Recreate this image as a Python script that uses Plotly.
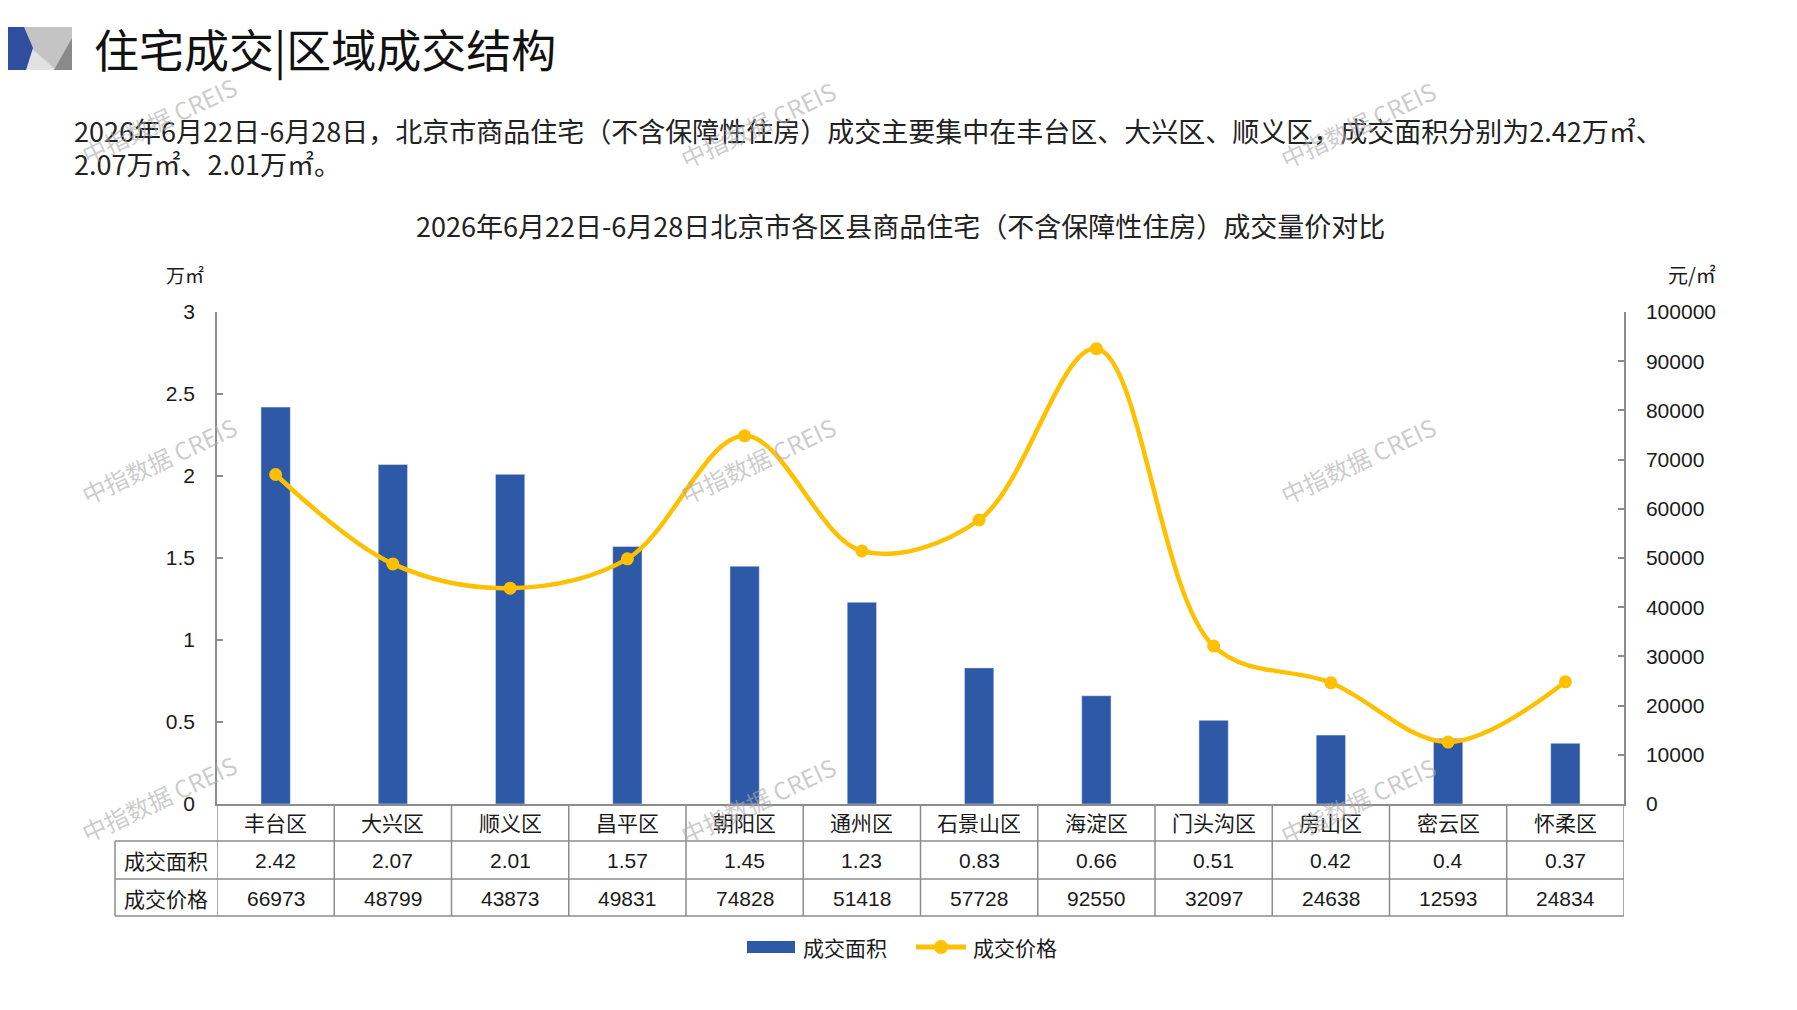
import plotly.graph_objects as go

# 数据
districts = ['丰台区', '大兴区', '顺义区', '昌平区', '朝阳区', '通州区',
             '石景山区', '海淀区', '门头沟区', '房山区', '密云区', '怀柔区']
area = [2.42, 2.07, 2.01, 1.57, 1.45, 1.23, 0.83, 0.66, 0.51, 0.42, 0.4, 0.37]
area_labels = ['2.42', '2.07', '2.01', '1.57', '1.45', '1.23',
               '0.83', '0.66', '0.51', '0.42', '0.4', '0.37']
price = [66973, 48799, 43873, 49831, 74828, 51418, 57728, 92550, 32097, 24638, 12593, 24834]
row_names = ['成交面积', '成交价格']

title_text = '住宅成交|区域成交结构'
para_lines = ['2026年6月22日-6月28日，北京市商品住宅（不含保障性住房）成交主要集中在丰台区、大兴区、顺义区，成交面积分别为2.42万㎡、',
              '2.07万㎡、2.01万㎡。']
chart_title = '2026年6月22日-6月28日北京市各区县商品住宅（不含保障性住房）成交量价对比'

# 画布和绘图区 (页面像素, 页面 body 有 8px 边距)
W, H = 1797, 1010
OFF = 8
PLOT_X0, PLOT_X1, PLOT_Y0, PLOT_Y1 = 217, 1624, 312, 804
PW = PLOT_X1 - PLOT_X0
PH = PLOT_Y1 - PLOT_Y0
L = PLOT_X0 - OFF
T = PLOT_Y0 - OFF
R = W - L - PW
B = H - T - PH

def px(x):
    return (x - PLOT_X0) / PW

def py(y):
    return (PLOT_Y1 - y) / PH

CJK = 'Noto Sans CJK SC'
NUM = 'Liberation Sans, Noto Sans CJK SC'
BLUE = '#2E59A7'
GOLD = '#FFC000'
GRID = '#8c8c8c'
TXT = '#1a1a1a'

fig = go.Figure()

fig.add_trace(go.Bar(x=districts, y=area, name='成交面积', marker_color=BLUE,
                     hoverinfo='x+y'))
fig.add_trace(go.Scatter(x=districts, y=price, name='成交价格', yaxis='y2',
                         mode='lines+markers',
                         line=dict(color=GOLD, width=4.5, shape='spline', smoothing=1),
                         marker=dict(color=GOLD, size=13)))

axis_style = dict(showline=True, linecolor=GRID, linewidth=1.5, ticks='inside',
                  ticklen=6, tickcolor=GRID, tickwidth=1.5, showgrid=False,
                  zeroline=False, tickfont=dict(family=NUM, size=21, color=TXT),
                  ticklabelstandoff=16)

fig.update_layout(
    width=W, height=H, autosize=False,
    margin=dict(l=L, r=R, t=T, b=B),
    paper_bgcolor='white', plot_bgcolor='white',
    font=dict(family=CJK, color=TXT),
    bargap=0.75,
    xaxis=dict(range=[-0.5, 11.5], showline=True, linecolor=GRID, linewidth=1.5,
               showticklabels=False, ticks='', showgrid=False),
    yaxis=dict(range=[0, 3], dtick=0.5, **axis_style),
    yaxis2=dict(range=[0, 100000], dtick=10000, overlaying='y', side='right',
                tickformat='d', **axis_style),
    showlegend=False,
)

annotations = []
shapes = []

# 标题栏 logo
logo = [
    ([(22, 27), (72, 27), (72, 70), (22, 70)], '#c4c4c4'),
    ([(30, 47), (56, 70), (24, 70)], '#e2e2e2'),
    ([(72, 38), (72, 70), (54, 70)], '#8a8a8a'),
    ([(0, 27), (24, 27), (33, 48), (26, 70), (0, 70)], '#2F4E9E'),
]
for pts, col in logo:
    path = 'M ' + ' L '.join('%.5f %.5f' % (px(a), py(b)) for a, b in pts) + ' Z'
    shapes.append(dict(type='path', xref='paper', yref='paper', path=path,
                       fillcolor=col, line=dict(width=0), layer='above'))

annotations.append(dict(text=title_text, xref='paper', yref='paper', x=px(92), y=py(49),
                        xanchor='left', yanchor='middle', showarrow=False,
                        font=dict(family=CJK, size=45, color='#111111')))

for i, line in enumerate(para_lines):
    annotations.append(dict(text=line, xref='paper', yref='paper', x=px(72), y=py(130 + 33 * i),
                            xanchor='left', yanchor='middle', showarrow=False,
                            font=dict(family=CJK, size=27, color='#222222')))

annotations.append(dict(text=chart_title, xref='paper', yref='paper', x=px(900), y=py(225),
                        xanchor='center', yanchor='middle', showarrow=False,
                        font=dict(family=CJK, size=27, color='#222222')))

annotations.append(dict(text='万㎡', xref='paper', yref='paper', x=px(185), y=py(274),
                        xanchor='center', yanchor='middle', showarrow=False,
                        font=dict(family=CJK, size=19, color=TXT)))
annotations.append(dict(text='元/㎡', xref='paper', yref='paper', x=px(1692), y=py(274),
                        xanchor='center', yanchor='middle', showarrow=False,
                        font=dict(family=CJK, size=20, color=TXT)))

# 数据表
row_y = [804, 841, 879, 916]
tbl_left = 115
for yy in row_y[1:]:
    shapes.append(dict(type='line', xref='paper', yref='paper', x0=px(tbl_left), x1=1,
                       y0=py(yy), y1=py(yy), line=dict(color=GRID, width=1.5)))
shapes.append(dict(type='line', xref='paper', yref='paper', x0=px(tbl_left), x1=px(tbl_left),
                   y0=py(row_y[1]), y1=py(row_y[3]), line=dict(color=GRID, width=1.5)))
for k in range(len(districts) + 1):
    shapes.append(dict(type='line', xref='x', yref='paper', x0=k - 0.5, x1=k - 0.5,
                       y0=py(row_y[0]), y1=py(row_y[3]), line=dict(color=GRID, width=1.5)))

for k, d in enumerate(districts):
    annotations.append(dict(text=d, xref='x', yref='paper', x=k, y=py(822),
                            xanchor='center', yanchor='middle',
                            showarrow=False, font=dict(family=CJK, size=21, color=TXT)))
    annotations.append(dict(text=area_labels[k], xref='x', yref='paper', x=k, y=py(860),
                            xanchor='center', yanchor='middle',
                            showarrow=False, font=dict(family=NUM, size=21, color=TXT)))
    annotations.append(dict(text=str(price[k]), xref='x', yref='paper', x=k, y=py(898),
                            xanchor='center', yanchor='middle',
                            showarrow=False, font=dict(family=NUM, size=21, color=TXT)))
for j, name in enumerate(row_names):
    annotations.append(dict(text=name, xref='paper', yref='paper', x=px(166), y=py(860 + 38 * j),
                            xanchor='center', yanchor='middle',
                            showarrow=False, font=dict(family=CJK, size=21, color=TXT)))

# 图例 (条形用宽矩形, 折线带圆点)
LEG_Y = 947
shapes.append(dict(type='rect', xref='paper', yref='paper', x0=px(747), x1=px(795),
                   y0=py(LEG_Y - 6), y1=py(LEG_Y + 6), fillcolor=BLUE, line=dict(width=0)))
annotations.append(dict(text='成交面积', xref='paper', yref='paper', x=px(801), y=py(LEG_Y),
                        xanchor='left', yanchor='middle', showarrow=False,
                        font=dict(family=CJK, size=21, color=TXT)))
shapes.append(dict(type='line', xref='paper', yref='paper', x0=px(916), x1=px(966),
                   y0=py(LEG_Y), y1=py(LEG_Y), line=dict(color=GOLD, width=5)))
shapes.append(dict(type='circle', xref='paper', yref='paper', x0=px(934), x1=px(948),
                   y0=py(LEG_Y - 7), y1=py(LEG_Y + 7), fillcolor=GOLD, line=dict(width=0)))
annotations.append(dict(text='成交价格', xref='paper', yref='paper', x=px(971), y=py(LEG_Y),
                        xanchor='left', yanchor='middle', showarrow=False,
                        font=dict(family=CJK, size=21, color=TXT)))

# 水印
wm_pos = [(158, 120), (757, 124), (1357, 124),
          (158, 460), (757, 460), (1357, 460),
          (158, 798), (757, 800), (1357, 800)]
for wx, wy in wm_pos:
    annotations.append(dict(text='中指数据 CREIS', xref='paper', yref='paper', x=px(wx), y=py(wy),
                            xanchor='center', yanchor='middle',
                            showarrow=False, textangle=-25,
                            font=dict(family=CJK, size=24, color='rgba(170,170,170,0.6)')))

fig.update_layout(annotations=annotations, shapes=shapes)

fig.write_html("out.html")
